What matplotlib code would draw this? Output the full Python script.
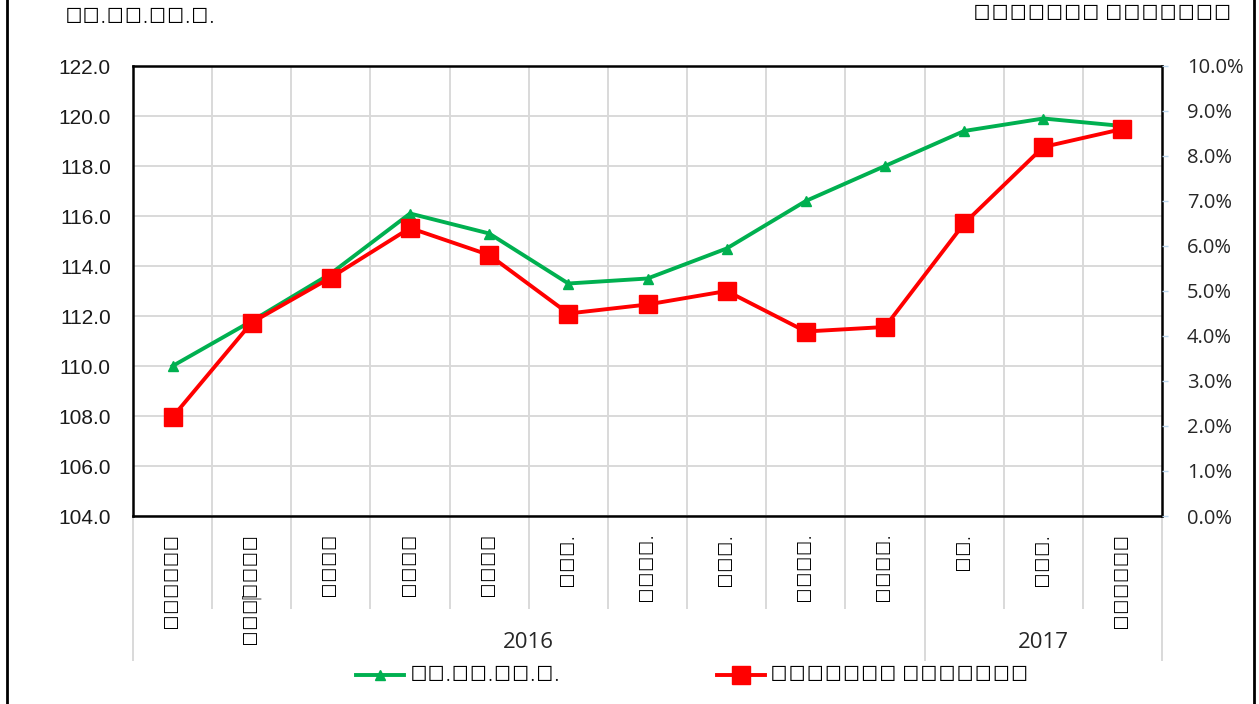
import matplotlib
matplotlib.use("Agg")
import matplotlib.pyplot as plt
import matplotlib.ticker as mticker
from matplotlib import font_manager
from matplotlib.patches import Rectangle

# --- data ------------------------------------------------------------------------------
months = ["මාර්තු", "අප්‍රේල්", "මැයි", "ජූනි", "ජූලි", "අගෝ.", "සැප්.",
          "ඔක්.", "නොවැ.", "දෙසැ.", "ජන.", "පෙබ.", "මාර්තු"]
years = ["2016", "2017"]
year_spans = [(0, 9), (10, 12)]          # first/last month index of each year
ncpi = [110.0, 111.8, 113.7, 116.1, 115.3, 113.3, 113.5, 114.7, 116.6, 118.0, 119.4, 119.9, 119.6]
inflation = [2.2, 4.3, 5.3, 6.4, 5.8, 4.5, 4.7, 5.0, 4.1, 4.2, 6.5, 8.2, 8.6]   # percent
left_title = "ජා.පා.මි.ද."
right_title = "වාර්ෂික උද්ධමනය"

# Sinhala glyphs: use an installed Sinhala face if one exists, else fall back
sinh = [f.name for f in font_manager.fontManager.ttflist
        if any(k in f.name for k in ("Sinhala", "Iskoola", "Lohit", "Malithi"))]
TXT = (sinh[:1] + ["DejaVu Sans"])
NUM_L = ["Liberation Sans", "DejaVu Sans"]
NUM_R = ["Open Sans", "DejaVu Sans"]

GREEN = "#00b050"
RED = "#ff0000"
GRID = "#d9d9d9"

fig = plt.figure(figsize=(12.59, 7.04), dpi=100)
ax = fig.add_axes([133 / 1259, 1 - 516 / 704, (1162 - 133) / 1259, (516 - 66) / 704])
ax2 = ax.twinx()

x = list(range(len(months)))
ax.plot(x, ncpi, color=GREEN, lw=2.8, marker="^", ms=7, zorder=3, label=left_title)
ax2.plot(x, [v / 100 for v in inflation], color=RED, lw=2.8, marker="s", ms=12.5,
         zorder=3, label=right_title)

ax.set_xlim(-0.5, len(months) - 0.5)
ax.set_ylim(104, 122)
ax.set_yticks([104 + 2 * i for i in range(10)])
ax.yaxis.set_major_formatter(mticker.FormatStrFormatter("%.1f"))
ax2.set_ylim(0, 0.10)
ax2.set_yticks([i / 100 for i in range(11)])
ax2.yaxis.set_major_formatter(mticker.PercentFormatter(1.0, decimals=1))

# grid: horizontal at y ticks, vertical at category boundaries
for yv in ax.get_yticks():
    ax.axhline(yv, color=GRID, lw=1.4, zorder=0)
for k in range(1, len(months)):
    ax.axvline(k - 0.5, color=GRID, lw=1.4, zorder=0)

for s in ax.spines.values():
    s.set_linewidth(1.8)
    s.set_color("black")
for s in ax2.spines.values():
    s.set_visible(False)

ax.tick_params(axis="y", length=0, pad=16)
for t in ax.get_yticklabels():
    t.set_family(NUM_L); t.set_fontsize(15); t.set_color("#1a1a1a")
ax2.tick_params(axis="y", length=4, width=1, color="#bdd7ee", pad=14)
for t in ax2.get_yticklabels():
    t.set_family(NUM_R); t.set_fontsize(14.5); t.set_color("#262626")

ax.set_xticks(x)
ax.set_xticklabels(months, rotation=90, va="top", ha="center", family=TXT, fontsize=11)
ax.tick_params(axis="x", length=0, pad=12)

# multi-level category axis: separators and year labels
tr = ax.get_xaxis_transform()
for k in range(1, len(months)):
    ax.plot([k - 0.5, k - 0.5], [0, -0.204], color=GRID, lw=1.4, transform=tr, clip_on=False)
for xv in (-0.5, 9.5, len(months) - 0.5):
    ax.plot([xv, xv], [0, -0.32], color=GRID, lw=1.4, transform=tr, clip_on=False)
for yr, (a, b) in zip(years, year_spans):
    ax.text((a + b) / 2, -0.28, yr, transform=tr, ha="center", va="center",
            family=NUM_R, fontsize=16, color="#262626")

# axis titles
fig.text(65 / 1259, 1 - 18 / 704, left_title, ha="left", va="center", family=TXT, fontsize=12.5)
fig.text(1232 / 1259, 1 - 15 / 704, right_title, ha="right", va="center", family=TXT, fontsize=12.5)

# legend, anchored so the green handle starts where the reference's does
h1, l1 = ax.get_legend_handles_labels()
h2, l2 = ax2.get_legend_handles_labels()
leg = fig.legend(h1 + h2, l1 + l2, loc="center left", bbox_to_anchor=(340 / 1259, 1 - 676 / 704),
                 ncol=2, frameon=False, handlelength=2.8, columnspacing=9,
                 handletextpad=0.3, prop={"family": TXT, "size": 12.5})

# outer frame
fig.patches.append(Rectangle((7 / 1259, -0.05), (1254 - 7) / 1259, 1.1, transform=fig.transFigure,
                             fill=False, edgecolor="black", lw=2))

fig.savefig("out.png", dpi=100)
